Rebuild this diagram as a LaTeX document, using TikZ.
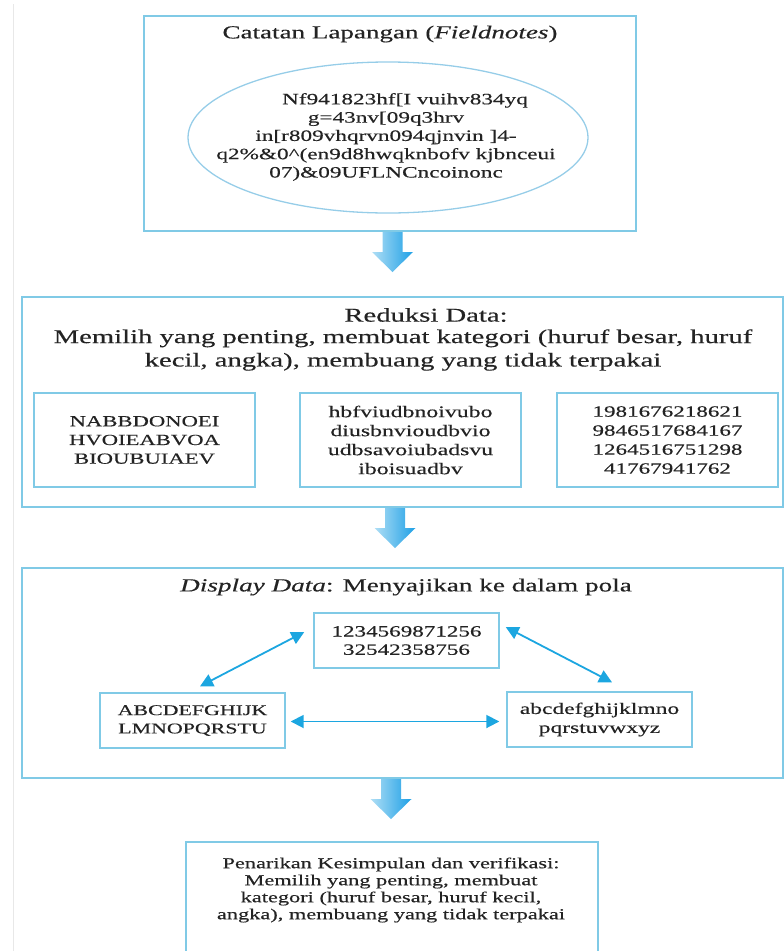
\documentclass[tikz,border=0pt]{standalone}
\usepackage{fontspec}
\setmainfont{Liberation Serif}[FakeStretch=1.47, FakeBold=0.35]
\usetikzlibrary{arrows.meta,shapes.geometric,calc}
\definecolor{boxc}{RGB}{128,202,230}
\definecolor{ellc}{RGB}{150,205,232}
\definecolor{arrc}{RGB}{28,166,224}
\definecolor{txt}{RGB}{35,35,35}
\definecolor{blkL}{RGB}{175,222,245}
\definecolor{blkR}{RGB}{30,160,230}
\newcommand\blockarrow[2]{%
  \shade[left color=blkL, right color=blkR]
    (#1-10,#2) -- (#1+10,#2) -- (#1+10,#2+20) -- (#1+20.5,#2+20) -- (#1,#2+40)
    -- (#1-20.5,#2+20) -- (#1-10,#2+20) -- cycle;}
\tikzset{
  panel/.style={draw=boxc, line width=1.7pt, anchor=north west, inner sep=0pt},
  subbox/.style={draw=boxc, line width=1.4pt, inner sep=0pt, text=txt, align=center},
  lbl/.style={text=txt, align=center, inner sep=0pt},
  dbl/.style={draw=arrc, line width=1.8pt,
    {Triangle[length=13pt,width=13pt]}-{Triangle[length=13pt,width=13pt]}},
}
\begin{document}
\begin{tikzpicture}[x=1pt,y=-1pt]
\useasboundingbox (0,0) rectangle (784,951);
\draw[gray!18, line width=0.8pt] (13,4) -- (13,951);

% ---------- box 1
\node[panel, minimum width=492pt, minimum height=215pt] (b1) at (143,15) {};
\node[lbl, font=\fontsize{18.4}{22}\selectfont] (t1) at (390,34) {Catatan Lapangan (\textit{Fieldnotes})};
\node[draw=ellc, line width=1.3pt, ellipse, minimum width=400pt, minimum height=151pt, inner sep=0pt] (el) at (388,137.5) {};
\node[lbl, font=\fontsize{15.8}{18.3}\selectfont] (elt) at (386,137) {\hspace*{38pt}Nf941823hf[I vuihv834yq\\ g=43nv[09q3hrv\\ in[r809vhqrvn094qjnvin ]4-\\ q2\%\&0\textasciicircum(en9d8hwqknbofv kjbnceui\\ 07)\&09UFLNCncoinonc};

\blockarrow{392.5}{232}

% ---------- box 2
\node[panel, minimum width=761pt, minimum height=210pt] (b2) at (21,296) {};
\node[lbl, font=\fontsize{19.5}{23.4}\selectfont] (t2a) at (426,315) {Reduksi Data:};
\node[lbl, font=\fontsize{19.5}{23.4}\selectfont] (t2b) at (403,350) {Memilih yang penting, membuat kategori (huruf besar, huruf\\ kecil, angka), membuang yang tidak terpakai};
\node[subbox, minimum width=221pt, minimum height=94pt, font=\fontsize{15.4}{18.7}\selectfont] (sa) at (144.5,440) {NABBDONOEI\\ HVOIEABVOA\\ BIOUBUIAEV};
\node[subbox, minimum width=221pt, minimum height=94pt, font=\fontsize{16.2}{19}\selectfont] (sb) at (410.5,440) {hbfviudbnoivubo\\ diusbnvioudbvio\\ udbsavoiubadsvu\\ iboisuadbv};
\node[subbox, minimum width=221pt, minimum height=94pt, font=\fontsize{15.7}{19}\selectfont] (sc) at (667.5,440) {1981676218621\\ 9846517684167\\ 1264516751298\\ 41767941762};

\blockarrow{395}{508}

% ---------- box 3
\node[panel, minimum width=761pt, minimum height=210pt] (b3) at (21,567) {};
\node[lbl, font=\fontsize{18.5}{22}\selectfont] (t3) at (406,587) {\textit{Display Data}: Menyajikan ke dalam pola};
\node[subbox, minimum width=185pt, minimum height=55pt, font=\fontsize{15.7}{18.3}\selectfont] (top) at (406.5,640.5) {1234569871256\\ 32542358756};
\node[subbox, minimum width=185pt, minimum height=55pt, font=\fontsize{14.9}{18.3}\selectfont] (lft) at (192.5,720.5) {ABCDEFGHIJK\\ LMNOPQRSTU};
\node[subbox, minimum width=185pt, minimum height=55pt, font=\fontsize{16}{19}\selectfont] (rgt) at (599.5,719.5) {abcdefghijklmno\\ pqrstuvwxyz};
\draw[dbl] ([shift={(-9,-8.5)}]top.west) -- ([shift={(7.5,-6)}]lft.north);
\draw[dbl] ([shift={(6,-13.5)}]top.east) -- ([shift={(12.5,-9)}]rgt.north);
\draw[dbl] ([shift={(5,1)}]lft.east) -- ([shift={(-7,2)}]rgt.west);

\blockarrow{391}{779}

% ---------- box 4
\node[panel, minimum width=412pt, minimum height=115pt] (b4) at (185,841) {};
\node[lbl, font=\fontsize{15.2}{17}\selectfont] (t4) at (391,890) {Penarikan Kesimpulan dan verifikasi:\\ Memilih yang penting, membuat\\ kategori (huruf besar, huruf kecil,\\ angka), membuang yang tidak terpakai};
\end{tikzpicture}
\end{document}
